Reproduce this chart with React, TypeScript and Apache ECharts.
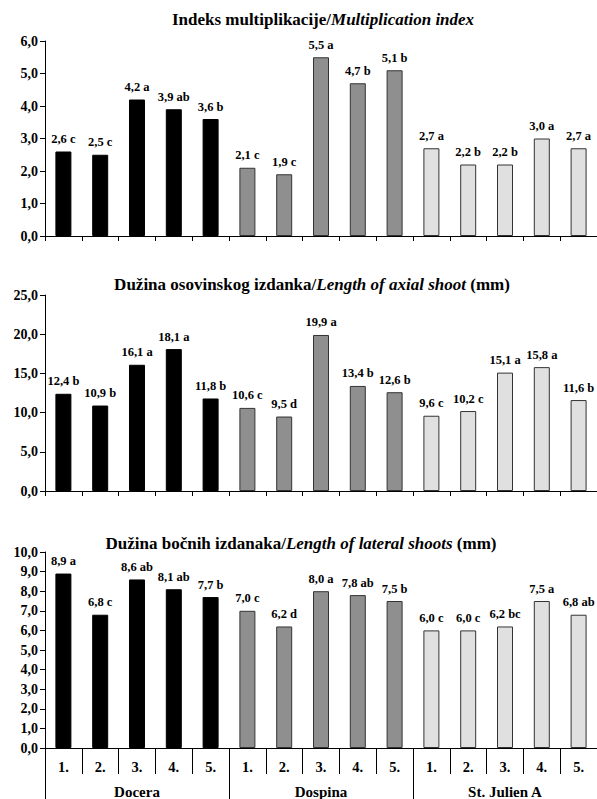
import React, { useEffect, useRef } from "react";
import * as echarts from "echarts";

const categories = ["1.", "2.", "3.", "4.", "5.", "1.", "2.", "3.", "4.", "5.", "1.", "2.", "3.", "4.", "5."];
const groups = ["Docera", "Dospina", "St. Julien A"];

const multValues = [2.6, 2.5, 4.2, 3.9, 3.6, 2.1, 1.9, 5.5, 4.7, 5.1, 2.7, 2.2, 2.2, 3.0, 2.7];
const multLetters = ["c", "c", "a", "ab", "b", "c", "c", "a", "b", "b", "a", "b", "b", "a", "a"];

const axialValues = [12.4, 10.9, 16.1, 18.1, 11.8, 10.6, 9.5, 19.9, 13.4, 12.6, 9.6, 10.2, 15.1, 15.8, 11.6];
const axialLetters = ["b", "b", "a", "a", "b", "c", "d", "a", "b", "b", "c", "c", "a", "a", "b"];

const lateralValues = [8.9, 6.8, 8.6, 8.1, 7.7, 7.0, 6.2, 8.0, 7.8, 7.5, 6.0, 6.0, 6.2, 7.5, 6.8];
const lateralLetters = ["a", "c", "ab", "ab", "b", "c", "d", "a", "ab", "b", "c", "c", "bc", "a", "ab"];

const groupColors = ["#000000", "#8f8f8f", "#e0e0e0"];
const groupBorders = ["#000000", "#333333", "#333333"];

const FONT = "'Liberation Serif', 'DejaVu Serif', serif";

function fmt(v: number) {
  return v.toFixed(1).replace(".", ",");
}

export default function App() {
  const ref = useRef<HTMLDivElement>(null);
  useEffect(() => {
    if (!ref.current) return;
    const chart = echarts.init(ref.current, undefined, { renderer: "svg" });

    const grids = [
      { left: 45, top: 41, width: 558, height: 195 },
      { left: 45, top: 295, width: 558, height: 196 },
      { left: 45, top: 552, width: 558, height: 197 },
    ];
    const maxes = [6, 25, 10];
    const intervals = [1, 5, 1];
    const valueSets = [multValues, axialValues, lateralValues];
    const letterSets = [multLetters, axialLetters, lateralLetters];

    const xAxes: any[] = [0, 1, 2].map((g) => ({
      type: "category",
      gridIndex: g,
      data: categories,
      axisLine: { show: true, lineStyle: { color: "#000", width: 1 } },
      axisTick: { show: true, length: g === 2 ? 26 : 5, lineStyle: { color: "#000" } },
      axisLabel: {
        show: g === 2,
        margin: 11,
        fontFamily: FONT,
        fontWeight: "bold",
        fontSize: 14.5,
        color: "#000",
      },
    }));
    xAxes.push({
      type: "category",
      gridIndex: 2,
      position: "bottom",
      data: groups,
      axisLine: { show: false },
      axisTick: { show: true, length: 52, lineStyle: { color: "#000" } },
      axisLabel: {
        margin: 36,
        fontFamily: FONT,
        fontWeight: "bold",
        fontSize: 15,
        color: "#000",
      },
    });

    const yAxes = [0, 1, 2].map((g) => ({
      type: "value",
      gridIndex: g,
      min: 0,
      max: maxes[g],
      interval: intervals[g],
      splitLine: { show: false },
      axisLine: { show: true, lineStyle: { color: "#000", width: 1 } },
      axisTick: { show: true, length: 5, lineStyle: { color: "#000" } },
      axisLabel: {
        margin: 7,
        fontFamily: FONT,
        fontWeight: "bold",
        fontSize: 14,
        color: "#000",
        formatter: (v: number) => fmt(v),
      },
    }));

    const series = [0, 1, 2].map((g) => ({
      type: "bar",
      xAxisIndex: g,
      yAxisIndex: g,
      barWidth: 16,
      data: valueSets[g].map((v, i) => {
        const grp = Math.floor(i / 5);
        return {
          value: v,
          itemStyle: {
            color: groupColors[grp],
            borderColor: groupBorders[grp],
            borderWidth: 1,
          },
        };
      }),
      label: {
        show: true,
        position: "top",
        distance: 6,
        fontFamily: FONT,
        fontWeight: "bold",
        fontSize: 12.5,
        color: "#000",
        formatter: (p: any) => `${fmt(p.value)} ${letterSets[g][p.dataIndex]}`,
      },
    }));

    const titleRich = {
      b: { fontFamily: FONT, fontWeight: "bold", fontSize: 17, fill: "#000" },
      i: { fontFamily: FONT, fontWeight: "bold", fontStyle: "italic", fontSize: 17, fill: "#000" },
    };
    const titleText = (x: number, y: number, text: string) => ({
      type: "text",
      x,
      y,
      style: {
        text,
        rich: titleRich,
        align: "center",
        verticalAlign: "middle",
        fontFamily: FONT,
        fontWeight: "bold",
        fontSize: 17,
        fill: "#000",
      },
    });

    chart.setOption({
      animation: false,
      backgroundColor: "#fff",
      grid: grids,
      xAxis: xAxes,
      yAxis: yAxes,
      series,
      graphic: [
        titleText(323, 19, "{b|Indeks multiplikacije/}{i|Multiplication index}"),
        titleText(312, 284, "{b|Dužina osovinskog izdanka/}{i|Length of axial shoot}{b| (mm)}"),
        titleText(301, 543, "{b|Dužina bočnih izdanaka/}{i|Length of lateral shoots}{b| (mm)}"),
      ],
    });
    return () => chart.dispose();
  }, []);

  return (
    <div
      ref={ref}
      style={{ position: "fixed", left: 0, top: 0, width: 597, height: 799, background: "#fff" }}
    />
  );
}
